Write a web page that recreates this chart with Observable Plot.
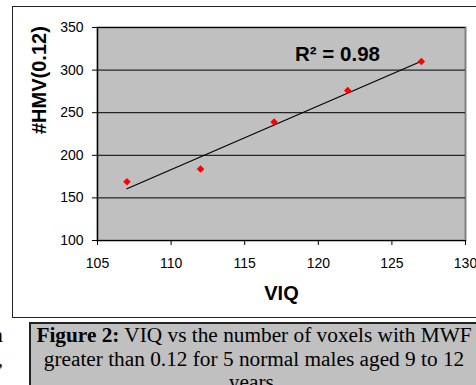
<!DOCTYPE html>
<html>
<head>
<meta charset="utf-8">
<script src="https://cdn.jsdelivr.net/npm/d3@7"></script>
<script src="https://cdn.jsdelivr.net/npm/@observablehq/plot@0.6"></script>
<style>
  html, body { margin: 0; padding: 0; background: #fff; }
  #page { position: relative; width: 476px; height: 385px; overflow: hidden; }
  #chartbox { position: absolute; left: 12px; top: 6px; width: 480px; height: 312px; border: 1.5px solid #222; box-sizing: border-box; background: #fff; }
  #chart { position: absolute; left: 0; top: 0; }
  #caption { position: absolute; left: 29px; top: 322px; width: 450px; height: 80px; box-sizing: border-box;
    border: 2px solid #222; background: #c0c0c0; text-align: center;
    font-family: "Liberation Serif", "Times New Roman", serif; font-size: 21.3px; line-height: 23.7px; color: #000; }
  #frag { position: absolute; left: -27px; top: 324px; width: 30px; text-align: right;
    font-family: "Liberation Serif", "Times New Roman", serif; font-size: 21.3px; line-height: 23.7px; color: #000; }
</style>
</head>
<body>
<div id="page">
  <div id="chartbox"></div>
  <div id="chart"></div>
  <div id="frag">n<br>,</div>
  <div id="caption"><b>Figure 2:</b> VIQ vs the number of voxels with MWF greater than 0.12 for 5 normal males aged 9 to 12 years.</div>
</div>
<script>
// Data
const viq = [107, 112, 117, 122, 127];
const hmv = [169, 184, 239, 276, 310];
const xTicks = [105, 110, 115, 120, 125, 130];
const yTicks = [100, 150, 200, 250, 300, 350];
const xLabel = ["VIQ"];
const yLabel = ["#HMV(0.12)"];

const data = viq.map((x, i) => ({viq: x, hmv: hmv[i]}));

// R^2 of the linear fit
const mx = d3.mean(viq), my = d3.mean(hmv);
const sxy = d3.sum(viq, (x, i) => (x - mx) * (hmv[i] - my));
const sxx = d3.sum(viq, x => (x - mx) ** 2);
const slope = sxy / sxx, icpt = my - slope * mx;
const ssRes = d3.sum(viq, (x, i) => (hmv[i] - (icpt + slope * x)) ** 2);
const ssTot = d3.sum(hmv, y => (y - my) ** 2);
const r2Label = [`R\u00B2 = ${(1 - ssRes / ssTot).toFixed(2)}`];

const chart = Plot.plot({
  width: 476,
  height: 310,
  marginLeft: 97,
  marginRight: 11,
  marginTop: 27,
  marginBottom: 70,
  style: {fontFamily: "'Liberation Sans', Arial, sans-serif", fontSize: "14px", background: "none", color: "#000", overflow: "visible"},
  x: {domain: [105, 130], ticks: xTicks},
  y: {domain: [100, 350], ticks: yTicks},
  marks: [
    Plot.frame({fill: "#c0c0c0", stroke: "#808080", strokeWidth: 2}),
    Plot.gridY(yTicks, {stroke: "#000", strokeOpacity: 1, strokeWidth: 1}),
    Plot.axisX({ticks: xTicks, tickSize: 5, tickPadding: 13, label: null, stroke: "#000"}),
    Plot.axisY({ticks: yTicks, tickSize: 5, tickPadding: 9, label: null, stroke: "#000"}),
    Plot.ruleX([105], {stroke: "#000", strokeWidth: 1.2}),
    Plot.ruleY([100], {stroke: "#000", strokeWidth: 1.2}),
    Plot.linearRegressionY(data, {x: "viq", y: "hmv", stroke: "#000", strokeWidth: 1.2, ci: 0}),
    Plot.dot(data, {x: "viq", y: "hmv", symbol: "diamond2", r: 3.4, fill: "#ff0000", stroke: "none"}),
    Plot.text(r2Label, {frameAnchor: "top", lineAnchor: "middle", dx: 56, dy: 27, fontSize: 20.5, fontWeight: "bold", fill: "#000"}),
    Plot.text(xLabel, {frameAnchor: "bottom", lineAnchor: "middle", dy: 53, fontSize: 20, fontWeight: "bold", fill: "#000"}),
    Plot.text(yLabel, {frameAnchor: "left", lineAnchor: "middle", dx: -58, rotate: -90, fontSize: 20, fontWeight: "bold", fill: "#000"})
  ]
});
document.getElementById("chart").appendChild(chart);
</script>
</body>
</html>
